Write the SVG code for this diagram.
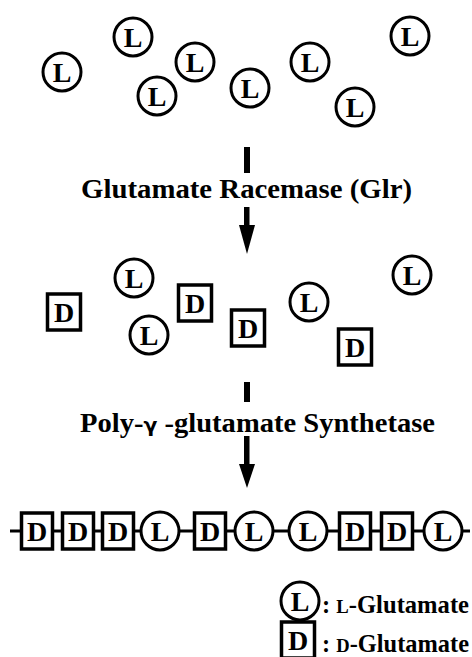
<svg xmlns="http://www.w3.org/2000/svg" width="472" height="657" viewBox="0 0 472 657">
<style>
.c{fill:#fff;stroke:#000;stroke-width:3}
.s{fill:#fff;stroke:#000;stroke-width:3.5}
.t{font-family:"Liberation Serif","Times New Roman",serif;font-weight:bold;font-size:28px;text-anchor:middle;fill:#000}
.lab{font-family:"Liberation Serif","Times New Roman",serif;font-weight:bold;font-size:28px;fill:#000}
.leg{font-family:"Liberation Serif","Times New Roman",serif;font-weight:bold;font-size:25px;fill:#000}
.line{stroke:#000;stroke-width:3;fill:none}
</style>
<defs>
<g id="L"><circle class="c" cx="0" cy="0" r="19"/><text class="t" x="0" y="10">L</text></g>
<g id="D"><rect class="s" x="-16.5" y="-18" width="33" height="36"/><text class="t" x="0" y="10">D</text></g>
<g id="Dc"><rect class="s" x="-15.5" y="-18" width="31" height="36"/><text class="t" x="0" y="10">D</text></g>
</defs>
<g id="top">
<use href="#L" x="62" y="72"/>
<use href="#L" x="133" y="37"/>
<use href="#L" x="195" y="62"/>
<use href="#L" x="157" y="96"/>
<use href="#L" x="250" y="88"/>
<use href="#L" x="310" y="62"/>
<use href="#L" x="355" y="107"/>
<use href="#L" x="410" y="36"/>
</g>
<g id="connectors">
<rect x="244" y="147" width="6" height="26" fill="#000"/>
<rect x="244" y="207" width="5.5" height="20" fill="#000"/>
<polygon points="239,225 255,225 247,254" fill="#000"/>
<rect x="244" y="382" width="6" height="20" fill="#000"/>
<rect x="244" y="436" width="5.5" height="31" fill="#000"/>
<polygon points="239,464 255,464 247,488" fill="#000"/>
</g>
<g id="label1"><text class="lab" x="81" y="198" textLength="331" lengthAdjust="spacingAndGlyphs">Glutamate Racemase (Glr)</text></g>
<g id="middle">
<use href="#D" x="64" y="312"/>
<use href="#L" x="134" y="278"/>
<use href="#L" x="149" y="335"/>
<use href="#D" x="195" y="303"/>
<use href="#D" x="248" y="328"/>
<use href="#L" x="309" y="302"/>
<use href="#L" x="412" y="275"/>
<use href="#D" x="355" y="347"/>
</g>
<g id="label2"><text class="lab" x="80" y="432" textLength="355" lengthAdjust="spacingAndGlyphs">Poly-<tspan font-family="'DejaVu Sans',sans-serif" font-size="20">γ</tspan> -glutamate Synthetase</text></g>
<g id="chain">
<line class="line" x1="10" y1="531" x2="470" y2="531"/>
<use href="#Dc" x="37" y="531"/>
<use href="#Dc" x="78" y="531"/>
<use href="#Dc" x="118" y="531"/>
<use href="#L" x="160" y="531"/>
<use href="#Dc" x="210" y="531"/>
<use href="#L" x="254" y="531"/>
<use href="#L" x="308" y="531"/>
<use href="#Dc" x="355" y="531"/>
<use href="#Dc" x="397" y="531"/>
<use href="#L" x="443" y="531"/>
</g>
<g id="legend">
<use href="#L" x="300" y="601"/>
<text class="leg" x="322" y="613" textLength="147" lengthAdjust="spacingAndGlyphs">: <tspan font-size="19">L</tspan>-Glutamate</text>
<use href="#D" x="298" y="640"/>
<text class="leg" x="322" y="652" textLength="147" lengthAdjust="spacingAndGlyphs">: <tspan font-size="19">D</tspan>-Glutamate</text>
</g>
</svg>
